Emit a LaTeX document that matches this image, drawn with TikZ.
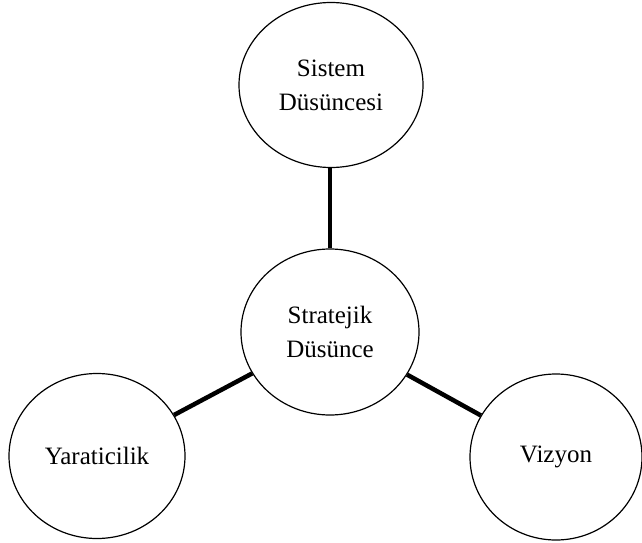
\documentclass[tikz,border=0pt]{standalone}
\usepackage{fontspec}
\setmainfont{Liberation Serif}
\usetikzlibrary{shapes.geometric}
\begin{document}
\begin{tikzpicture}[x=1pt,y=-1pt,
  bubble/.style={ellipse, draw, line width=1.2pt, inner sep=0pt,
    minimum width=180pt, minimum height=165pt, align=center,
    font=\fontsize{25}{34}\selectfont},
  link/.style={line width=4.5pt}]
  \useasboundingbox (0,0) rectangle (642,543);
  \node[bubble, minimum width=184pt] (sys) at (331,85) {Sistem\\Düsüncesi};
  \node[bubble, minimum width=178pt, minimum height=166pt] (str) at (330,332) {Stratejik\\Düsünce};
  \node[bubble, minimum width=176pt] (yar) at (97,456) {Yaraticilik};
  \node[bubble, minimum width=172pt, minimum height=166pt] (viz) at (556,457) {Vizyon};
  \draw[link] (str.north) -- (str.north |- sys.south);
  \draw[link] (str) -- (yar);
  \draw[link] (str) -- (viz);
\end{tikzpicture}
\end{document}
